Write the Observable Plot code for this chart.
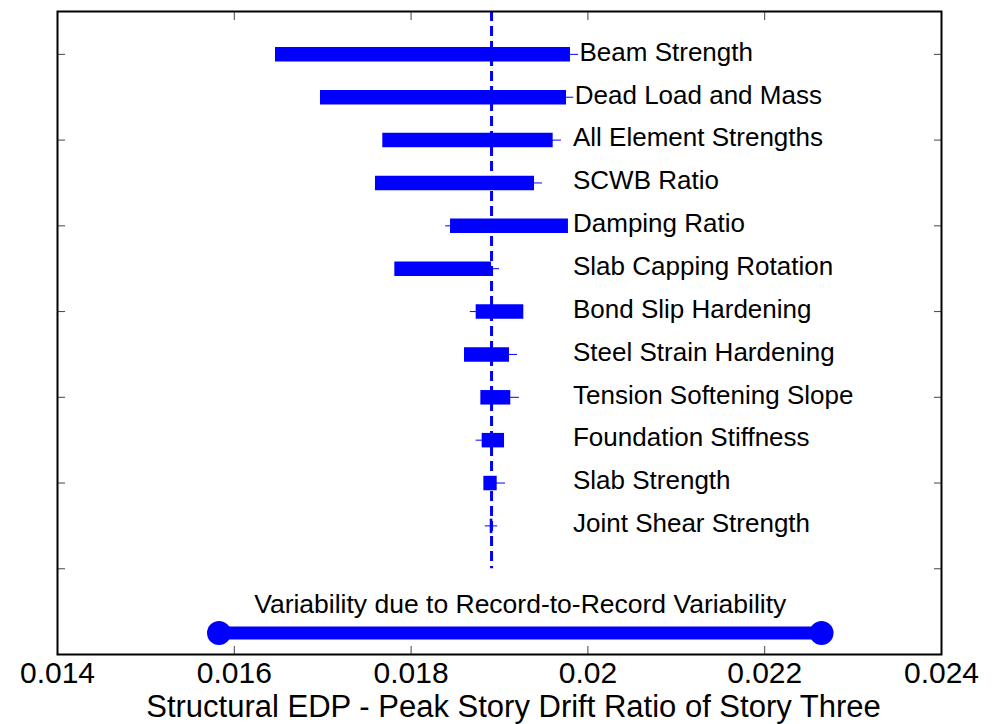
<!DOCTYPE html>
<html>
<head>
<meta charset="utf-8">
<script src="https://cdn.jsdelivr.net/npm/d3@7"></script>
<script src="https://cdn.jsdelivr.net/npm/@observablehq/plot@0.6"></script>
<style>
  html, body { margin: 0; padding: 0; background: #fff; }
  #chart svg { display: block; }
</style>
</head>
<body>
<div id="chart"></div>
<script>
// Tornado diagram: swing of peak story drift (story three) for each modeling parameter
const categories = [
  "Beam Strength", "Dead Load and Mass", "All Element Strengths", "SCWB Ratio",
  "Damping Ratio", "Slab Capping Rotation", "Bond Slip Hardening",
  "Steel Strain Hardening", "Tension Softening Slope", "Foundation Stiffness",
  "Slab Strength", "Joint Shear Strength"
];
// EDP at the low / high end of each parameter's range (thick bar)
const barLow  = [0.016466, 0.016975, 0.017680, 0.017597, 0.018446, 0.017816,
                 0.018736, 0.018604, 0.018789, 0.018804, 0.018823, 0.018895];
const barHigh = [0.019803, 0.019758, 0.019607, 0.019396, 0.019780, 0.018910,
                 0.019275, 0.019113, 0.019128, 0.019057, 0.018974, 0.018925];
// thin line extent for each parameter
const thinLow  = [0.01891, 0.01891, 0.01891, 0.01891, 0.01839, 0.01891,
                  0.01867, 0.01891, 0.01891, 0.018736, 0.01891, 0.01884];
const thinHigh = [0.019894, 0.01984, 0.019701, 0.019486, 0.01891, 0.0190,
                  0.01891, 0.019204, 0.019226, 0.01891, 0.019068, 0.01898];
// median response of the base model
const baseValue = 0.01891;
// record-to-record variability range
const recordLabel = "Variability due to Record-to-Record Variability";
const recordRange = [0.015827, 0.022643];
const xTicks = [0.014, 0.016, 0.018, 0.020, 0.022, 0.024];
const yTicks = [1, 3, 5, 7, 9, 11, 13, 15];
const xLabel = "Structural EDP - Peak Story Drift Ratio of Story Three";

const rows = categories.map((name, i) => ({
  name,
  row: i + 1,
  lo: barLow[i],
  hi: barHigh[i],
  tlo: thinLow[i],
  thi: thinHigh[i],
  labelX: Math.max(barHigh[i], thinHigh[i], 0.01982)
}));
const recordRow = 14.5;
const record = [{row: recordRow, x1: recordRange[0], x2: recordRange[1], mid: (recordRange[0] + recordRange[1]) / 2}];
const recordEnds = recordRange.map(x => ({x, row: recordRow}));

const blue = "#0000ff";
const font = "'Liberation Sans', Arial, Helvetica, sans-serif";

const chart = Plot.plot({
  width: 994,
  height: 724,
  marginLeft: 57,
  marginRight: 53,
  marginTop: 11,
  marginBottom: 70,
  style: {fontFamily: font, background: "#fff", color: "#000"},
  x: {domain: [0.014, 0.024], label: null},
  y: {domain: [0, 15], reverse: true, label: null},
  marks: [
    // thin lines
    Plot.ruleY(rows, {y: "row", x1: "tlo", x2: "thi", stroke: blue, strokeWidth: 1}),
    // thick bars
    Plot.ruleY(rows, {y: "row", x1: "lo", x2: "hi", stroke: blue, strokeWidth: 14.5, strokeLinecap: "butt"}),
    // base-model median
    Plot.ruleX([baseValue], {y1: 0, y2: 13, stroke: blue, strokeWidth: 3, strokeDasharray: "10,5"}),
    // parameter labels
    Plot.text(rows, {x: "labelX", y: "row", text: "name", textAnchor: "start", dx: 1, dy: -2,
      fontSize: 26, fill: "#000", fontFamily: font}),
    // record-to-record band
    Plot.ruleY(record, {y: "row", x1: "x1", x2: "x2", stroke: blue, strokeWidth: 13, strokeLinecap: "butt"}),
    Plot.dot(recordEnds, {x: "x", y: "row", r: 12, fill: blue, stroke: "none"}),
    Plot.text(record, {x: "mid", y: "row", text: () => recordLabel, dy: -29,
      fontSize: 26.5, fill: "#000", fontFamily: font}),
    // inward tick marks on all four sides
    Plot.axisX(xTicks, {anchor: "bottom", tickSize: -8, tickFormat: () => "", stroke: "#444", label: null}),
    Plot.axisX(xTicks, {anchor: "top", tickSize: -8, tickFormat: () => "", stroke: "#444", label: null}),
    Plot.axisY(yTicks, {anchor: "left", tickSize: -8, tickFormat: () => "", stroke: "#444", label: null}),
    Plot.axisY(yTicks, {anchor: "right", tickSize: -8, tickFormat: () => "", stroke: "#444", label: null}),
    // tick labels
    Plot.axisX(xTicks, {anchor: "bottom", tickSize: 0, tickPadding: 7, fontSize: 30,
      tickFormat: d => String(+d.toFixed(3)), label: null, fill: "#000"}),
    // axis title
    Plot.text([xLabel], {frameAnchor: "bottom", lineAnchor: "top", dy: 40, dx: 14,
      fontSize: 31, fill: "#000", fontFamily: font}),
    Plot.frame({stroke: "#000", strokeWidth: 2})
  ]
});

document.getElementById("chart").appendChild(chart);
</script>
</body>
</html>
